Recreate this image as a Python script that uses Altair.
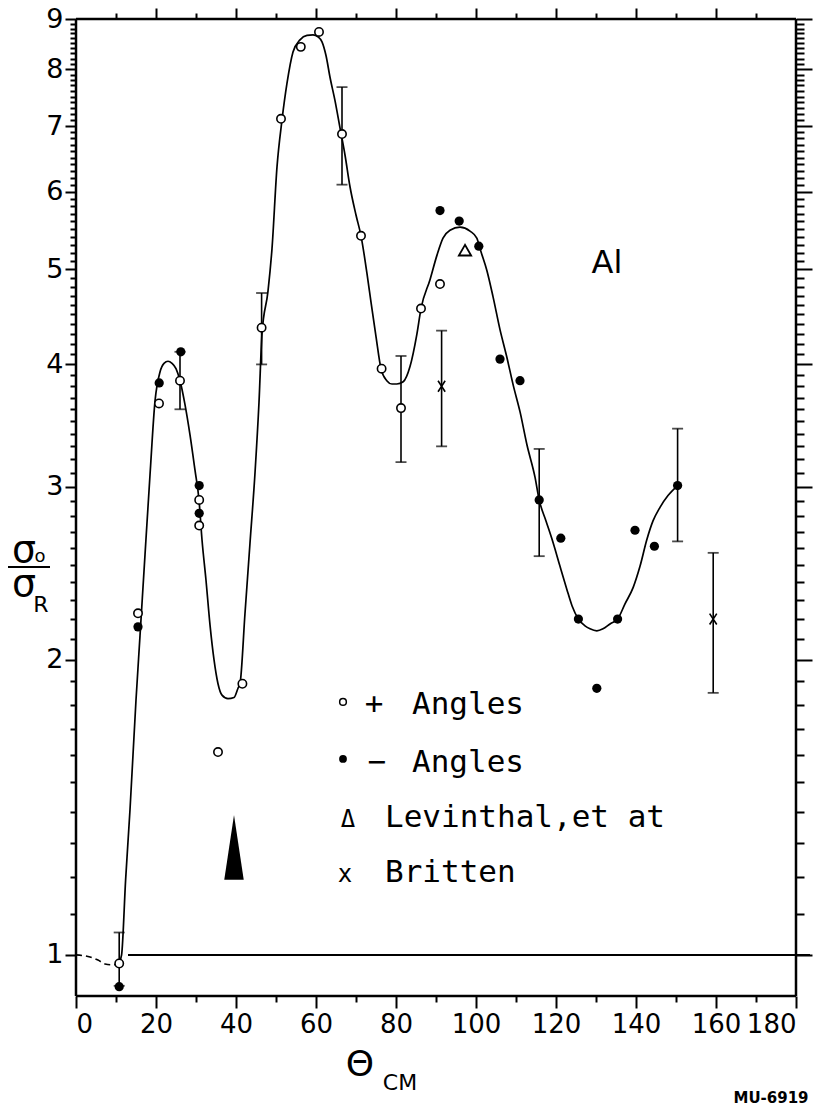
import altair as alt
import pandas as pd

# ---------------- data ----------------
plus_x = [10.8, 15.5, 20.75, 26.0, 30.8, 30.8, 35.5, 41.6, 46.4, 51.25, 56.2, 60.75, 66.5, 71.25, 76.4, 81.25, 86.25, 91.0]
plus_y = [0.98, 2.23, 3.65, 3.85, 2.91, 2.74, 1.61, 1.89, 4.36, 7.12, 8.43, 8.73, 6.87, 5.41, 3.96, 3.61, 4.56, 4.83]

minus_x = [10.8, 15.5, 20.8, 26.2, 30.8, 30.8, 91.0, 95.8, 100.7, 106.0, 111.0, 115.8, 121.2, 125.6, 130.2, 135.4, 139.75, 144.6, 150.4]
minus_y = [0.928, 2.16, 3.83, 4.12, 3.01, 2.82, 5.74, 5.60, 5.28, 4.05, 3.85, 2.91, 2.66, 2.20, 1.87, 2.20, 2.71, 2.61, 3.01]

levinthal_x = [97.25]
levinthal_y = [5.23]

britten_x = [91.4, 159.3]
britten_y = [3.80, 2.20]

err_x = [10.8, 26.0, 46.4, 66.5, 81.25, 91.4, 115.8, 150.4, 159.3]
err_lo = [0.93, 3.60, 4.00, 6.10, 3.18, 3.30, 2.55, 2.64, 1.85]
err_hi = [1.054, 4.12, 4.73, 7.67, 4.08, 4.33, 3.28, 3.44, 2.57]

curve_x = [10.75, 11.4, 12.4, 13.5, 15.0, 16.0, 17.25, 18.5, 19.75, 21.0, 22.0, 23.0, 24.0, 25.0, 26.0,
           27.25, 28.5, 29.75, 30.75, 31.5, 32.5, 33.5, 34.5, 35.5, 36.5, 38.0, 39.5, 40.5, 41.0,
           42.25, 43.5, 44.75, 45.75, 46.5, 48.0, 49.0, 50.25, 51.5, 52.75, 54.25, 56.0, 57.75, 59.25,
           60.5, 61.5, 62.5, 63.5, 64.75, 66.0, 67.25, 68.5, 70.0, 71.25, 72.75, 73.75, 75.0, 76.25,
           77.7, 79.0, 80.2, 81.8, 83.5, 85.2, 86.25, 88.5, 90.25, 91.75, 93.5, 96.0, 98.5, 100.2,
           101.25, 102.7, 104.25, 106.0, 107.7, 109.3, 111.0, 112.75, 114.75, 115.8, 117.5, 119.3,
           121.0, 122.7, 124.0, 125.6, 127.25, 128.5, 130.2, 131.75, 133.5, 135.4, 137.25, 139.3,
           141.0, 142.7, 144.25, 146.0, 148.0, 150.4]
curve_y = [0.981, 1.0, 1.192, 1.406, 1.819, 2.115, 2.558, 3.085, 3.67, 3.93, 4.01, 4.03, 4.01, 3.96, 3.85,
           3.64, 3.39, 3.12, 2.91, 2.65, 2.41, 2.17, 2.0, 1.89, 1.84, 1.825, 1.83, 1.87, 1.89,
           2.23, 2.63, 3.10, 3.66, 4.30, 4.75, 5.25, 6.36, 7.10, 7.74, 8.33, 8.57, 8.66, 8.67,
           8.63, 8.53, 8.26, 7.85, 7.43, 6.97, 6.54, 6.07, 5.68, 5.41, 4.95, 4.63, 4.27, 3.96,
           3.85, 3.82, 3.82, 3.84, 3.98, 4.29, 4.56, 4.88, 5.17, 5.38, 5.48, 5.52, 5.47, 5.38,
           5.21, 4.99, 4.69, 4.34, 4.07, 3.81, 3.58, 3.31, 3.07, 2.91, 2.77, 2.63,
           2.49, 2.36, 2.27, 2.20, 2.165, 2.15, 2.14, 2.15, 2.175, 2.20, 2.28, 2.37,
           2.49, 2.65, 2.77, 2.86, 2.94, 3.01]

dash_x = [0.0, 3.5, 5.5, 7.25, 9.25, 10.75]
dash_y = [1.0, 0.995, 0.988, 0.979, 0.977, 0.981]

x_major = [0, 20, 40, 60, 80, 100, 120, 140, 160, 180]
x_minor = [10, 30, 50, 70, 90, 110, 130, 150, 170]
y_major = [1, 2, 3, 4, 5, 6, 7, 8, 9]
y_minor = [i / 10 for i in range(11, 90) if i % 10 != 0]

FONT = "DejaVu Sans"
MONO = "DejaVu Sans Mono"

xs = alt.Scale(domain=[0, 180], nice=False, zero=False)
ys = alt.Scale(type="log", domain=[0.908, 9], nice=False)

curve_df = pd.DataFrame({"x": curve_x, "y": curve_y})
dash_df = pd.DataFrame({"x": dash_x, "y": dash_y})
plus_df = pd.DataFrame({"x": plus_x, "y": plus_y})
minus_df = pd.DataFrame({"x": minus_x, "y": minus_y})
lev_df = pd.DataFrame({"x": levinthal_x, "y": levinthal_y})
brit_df = pd.DataFrame({"x": britten_x, "y": britten_y})
err_df = pd.DataFrame({"x": err_x, "lo": err_lo, "hi": err_hi})
cap_df = pd.DataFrame({"x": err_x + err_x, "y": err_lo + err_hi})


def ax(orient, values, size, labels=False, **kw):
    return alt.Axis(orient=orient, values=values, tickSize=size, tickWidth=2, tickColor="black",
                    domain=False, grid=False, labels=labels, title=None, **kw)


X = lambda axis=None: alt.X("x:Q", scale=xs, axis=axis)
Y = lambda axis=None: alt.Y("y:Q", scale=ys, axis=axis)
DX = lambda v: alt.XDatum(v, scale=xs, axis=None)
DY = lambda v: alt.YDatum(v, scale=ys, axis=None)

# main curve with labelled axes
curve = alt.Chart(curve_df).mark_line(color="black", strokeWidth=1.7, interpolate="monotone").encode(
    x=X(ax("bottom", x_major, 12, labels=True, labelFontSize=26, labelFont=FONT,
           labelColor="black", labelPadding=3, format="d")),
    y=Y(ax("left", y_major, 11, labels=True, labelFontSize=27, labelFont=FONT,
           labelColor="black", labelPadding=2, format="d")),
    order="x:Q",
)

inv = alt.Chart(curve_df).mark_point(opacity=0)
axis_minor = inv.encode(x=X(ax("bottom", x_minor, 6)), y=Y(ax("left", y_minor, 6)))
axis_top = inv.encode(x=X(ax("top", x_major[1:-1], 11)), y=Y(ax("right", y_major, 16)))
axis_top_minor = inv.encode(x=X(ax("top", x_minor, 6)), y=Y(ax("right", y_minor, 8)))

# frame of the plot
frame_top = alt.Chart(lev_df).mark_rule(color="black", strokeWidth=2.5).encode(
    x=DX(0), x2=alt.X2Datum(180), y=DY(9))
frame_bottom = alt.Chart(lev_df).mark_rule(color="black", strokeWidth=2.5).encode(
    x=DX(0), x2=alt.X2Datum(180), y=DY(0.908))
frame_left = alt.Chart(lev_df).mark_rule(color="black", strokeWidth=2.5).encode(
    x=DX(0), y=DY(0.908), y2=alt.Y2Datum(9))
frame_right = alt.Chart(lev_df).mark_rule(color="black", strokeWidth=2.5).encode(
    x=DX(180), y=DY(0.908), y2=alt.Y2Datum(9))

dashed = alt.Chart(dash_df).mark_line(color="black", strokeWidth=1.6, strokeDash=[6, 4],
                                      interpolate="monotone").encode(x=X(), y=Y(), order="x:Q")

hline = alt.Chart(lev_df).mark_rule(color="black", strokeWidth=2).encode(
    x=DX(13), x2=alt.X2Datum(183.5), y=DY(1))

bars = alt.Chart(err_df).mark_rule(color="black", strokeWidth=1.6).encode(
    x=X(), y=alt.Y("lo:Q", scale=ys, axis=None), y2="hi:Q")
caps = alt.Chart(cap_df).mark_tick(color="black", orient="horizontal", size=11, thickness=1.8).encode(
    x=X(), y=Y())

open_pts = alt.Chart(plus_df).mark_point(shape="circle", filled=True, fill="white", stroke="black",
                                         strokeWidth=1.6, size=70, opacity=1).encode(x=X(), y=Y())
fill_pts = alt.Chart(minus_df).mark_point(shape="circle", filled=True, color="black", size=85,
                                          opacity=1).encode(x=X(), y=Y())
lev_pts = alt.Chart(lev_df).mark_point(shape="triangle-up", filled=True, fill="white", stroke="black",
                                       strokeWidth=1.8, size=150, opacity=1).encode(x=X(), y=Y())
brit_pts = alt.Chart(brit_df).mark_point(shape="M-0.65,-1L0.65,1M0.65,-1L-0.65,1", filled=False,
                                         color="black", strokeWidth=1.6, size=120,
                                         opacity=1).encode(x=X(), y=Y())

arrow = alt.Chart(lev_df).mark_point(shape="M0,-1L0.3,1L-0.3,1Z", filled=True, color="black",
                                     size=4200, opacity=1).encode(x=DX(39.5), y=DY(1.287))


def txt(s, x, y, size, font=FONT, align="left", baseline="alphabetic", weight="normal"):
    return alt.Chart(lev_df).mark_text(text=s, font=font, fontSize=size, align=align, baseline=baseline,
                                       color="black", fontWeight=weight).encode(x=DX(x), y=DY(y))


def ptxt(s, x, y, size, font=FONT, align="center", baseline="alphabetic", weight="normal"):
    return alt.Chart(lev_df).mark_text(text=s, font=font, fontSize=size, align=align, baseline=baseline,
                                       color="black", fontWeight=weight).encode(
        x=alt.value(x), y=alt.value(y))


legend_open = alt.Chart(lev_df).mark_point(shape="circle", filled=True, fill="white", stroke="black",
                                           strokeWidth=1.5, size=45, opacity=1).encode(
    x=DX(66.75), y=DY(1.811))
legend_fill = alt.Chart(lev_df).mark_point(shape="circle", filled=True, color="black", size=60,
                                           opacity=1).encode(x=DX(66.75), y=DY(1.584))

texts = [
    txt("+", 74.5, 1.761, 31, MONO, align="center"),
    txt("Angles", 84, 1.761, 31, MONO),
    txt("\u2212", 75.25, 1.537, 31, MONO, align="center"),
    txt("Angles", 84, 1.537, 31, MONO),
    txt("\u0394", 68, 1.35, 24, MONO, align="center"),
    txt("Levinthal,et at", 77.25, 1.35, 31, MONO),
    txt("x", 67.25, 1.187, 24, MONO, align="center"),
    txt("Britten", 77.25, 1.187, 31, MONO),
    txt("Al", 128.9, 4.96, 32),
]

frac = alt.Chart(lev_df).mark_rule(color="black", strokeWidth=2).encode(
    x=alt.value(-68), x2=alt.value(-26), y=alt.value(548))
titles = [
    ptxt("\u03c3", -52, 543, 38),
    ptxt("o", -36, 543, 18),
    ptxt("\u03c3", -52, 577, 38),
    ptxt("R", -35, 593, 22),
    ptxt("\u0398", 284, 1057, 36),
    ptxt("CM", 324, 1071, 22),
    ptxt("MU-6919", 695, 1087, 15, weight="bold", baseline="bottom"),
]

chart = alt.layer(
    curve, axis_minor, axis_top, axis_top_minor,
    frame_top, frame_bottom, frame_left, frame_right,
    dashed, hline, bars, caps,
    open_pts, fill_pts, lev_pts, brit_pts, arrow, legend_open, legend_fill,
    *texts, frac, *titles,
).resolve_axis(x="independent", y="independent").properties(
    width=720, height=977,
    autosize=alt.AutoSizeParams(type="none"),
    padding={"left": 68, "top": 11, "right": 24, "bottom": 112},
    background="white",
).configure_view(stroke=None)

chart.save("out.html", embed_options={"renderer": "svg", "actions": False})
